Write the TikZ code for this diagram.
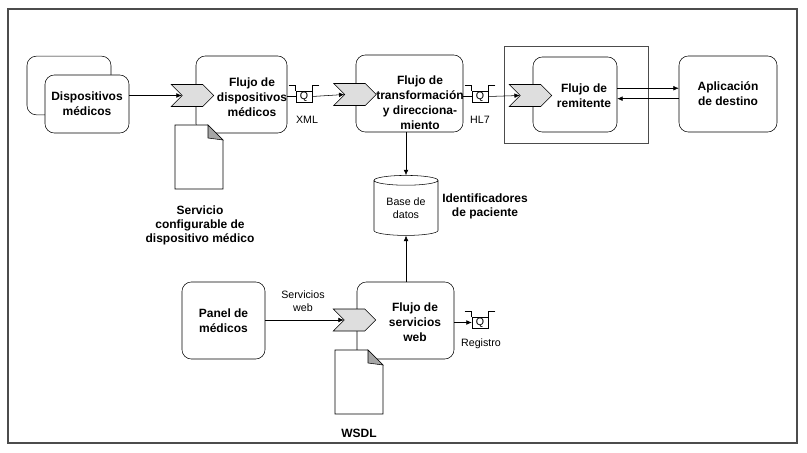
\documentclass[tikz,border=0pt]{standalone}
\usepackage{fontspec}
\setmainfont{Liberation Sans}
\usetikzlibrary{shapes.symbols,shapes.geometric,arrows.meta}

\begin{document}
\begin{tikzpicture}[
    x=0.75pt, y=-0.75pt,
    box/.style={draw, rounded corners=7pt, fill=white, align=center, inner sep=0pt,
        minimum height=57.75pt, font=\bfseries\fontsize{9}{11.25}\selectfont},
    boxtext/.style={align=center, inner sep=0pt, font=\bfseries\fontsize{9}{11.25}\selectfont},
    chev/.style={draw, signal, signal from=west, signal to=east, fill=black!13,
        minimum width=32pt, minimum height=16.5pt, inner sep=0pt},
    queue/.style={draw, fill=white, minimum width=12pt, minimum height=8.25pt, inner sep=0pt,
        font=\fontsize{8}{9}\selectfont},
    lbl/.style={align=center, font=\fontsize{8}{9.5}\selectfont},
    blbl/.style={align=center, font=\bfseries\fontsize{9}{10.5}\selectfont},
    arr/.style={-{Latex[length=4pt,width=3.5pt]}}
]
    \useasboundingbox (0,0) rectangle (807,453);
    \draw[gray!60!black, line width=1pt] (8,9) rectangle (797,443);

    % devices and flows
    \node[box, minimum width=63pt, minimum height=44pt] (devback) at (69,85.5) {};
    \node[box, minimum width=63pt, minimum height=43.5pt] (dev) at (87,104) {Dispositivos\\médicos};
    \node[box, minimum width=68.25pt] (flujodev) at (241.5,94.5) {};
    \node[boxtext] (flujodev-t) at (252,97) {Flujo de\\dispositivos\\médicos};
    \node[box, minimum width=80.25pt] (transf) at (409.5,93.5) {};
    \node[boxtext] (transf-t) at (420,103) {Flujo de\\transformación\\y direcciona-\\miento};
    \draw[gray!60!black] (504,46) rectangle (648,143);
    \node[box, minimum width=63pt, minimum height=56.25pt] (remit) at (575,94.5) {};
    \node[boxtext] (remit-t) at (584,96) {Flujo de\\remitente};
    \node[box, minimum width=73.5pt, minimum height=57pt] (destino) at (728,94) {Aplicación\\de destino};
    \node[box, minimum width=62.25pt] (panel) at (223.5,320.5) {Panel de\\médicos};
    \node[box, minimum width=72.75pt] (servicios) at (405.5,320.5) {};
    \node[boxtext] (servicios-t) at (415,322) {Flujo de\\servicios\\web};

    % documents
    \foreach \l/\t in {175/125, 335/350} {
        \draw[fill=white] (\l,\t) -- ++(33,0) -- ++(15,15) -- ++(0,49) -- ++(-48,0) -- cycle;
        \draw[fill=gray!70] (\l+33,\t) -- ++(0,13) -- ++(15,2) -- cycle;
    }
    \node[blbl] (doc1-lbl) at (200,225) {Servicio\\configurable de\\dispositivo médico};
    \node[blbl] (doc2-lbl) at (359,433) {WSDL};

    % entry points
    \node[chev] (chev1) at (192.5,95.5) {};
    \node[chev] (chev2) at (355,94.5) {};
    \node[chev] (chev3) at (530.5,95.5) {};
    \node[chev] (chev4) at (354.5,320) {};

    % queues
    \node[queue] (q1) at (304,96.5) {Q};
    \node[queue] (q2) at (480,96.5) {Q};
    \node[queue] (q3) at (480,322.5) {Q};
    \foreach \q in {q1,q2,q3} {
        \draw ([shift={(-7,-5)}]\q.north west) -- ([yshift=3.75pt]\q.north west) -- (\q.north west);
        \draw ([shift={(7,-5)}]\q.north east) -- ([yshift=3.75pt]\q.north east) -- (\q.north east);
    }
    \node[lbl] (xml) at (307,120) {XML};
    \node[lbl] (hl7) at (480,120) {HL7};
    \node[lbl] (registro) at (481,344) {Registro};

    % database
    \node[cylinder, shape border rotate=90, aspect=0.25, draw, fill=white, lbl,
        minimum width=48pt, minimum height=45pt, inner sep=0pt] (db) at (406,208) {Base de\\datos};
    \node[blbl] (ids) at (485,206) {Identificadores\\de paciente};

    % connectors
    \draw[arr] (dev.east |- chev1) -- (chev1.west);
    \draw (flujodev.east |- q1) -- (q1.west);
    \draw[arr] (q1.east) -- (chev2.west);
    \draw (transf.east |- q2) -- (q2.west);
    \draw[arr] (q2.east) -- (chev3.west);
    \draw[arr] ([yshift=4.7pt]remit.east) -- ([yshift=4.7pt]remit.east -| destino.west);
    \draw[arr] ([yshift=-3.5pt]destino.west) -- ([yshift=-3.5pt]destino.west -| remit.east);
    \draw[arr] (db.north |- transf.south) -- (db.north);
    \draw[arr] (db.south |- servicios.north) -- (db.south);
    \draw[arr] (panel.east |- chev4) -- (chev4.west);
    \node[lbl] (ws) at (303,301) {Servicios\\web};
    \draw[arr] (servicios.east |- q3) -- (q3.west);
\end{tikzpicture}
\end{document}
